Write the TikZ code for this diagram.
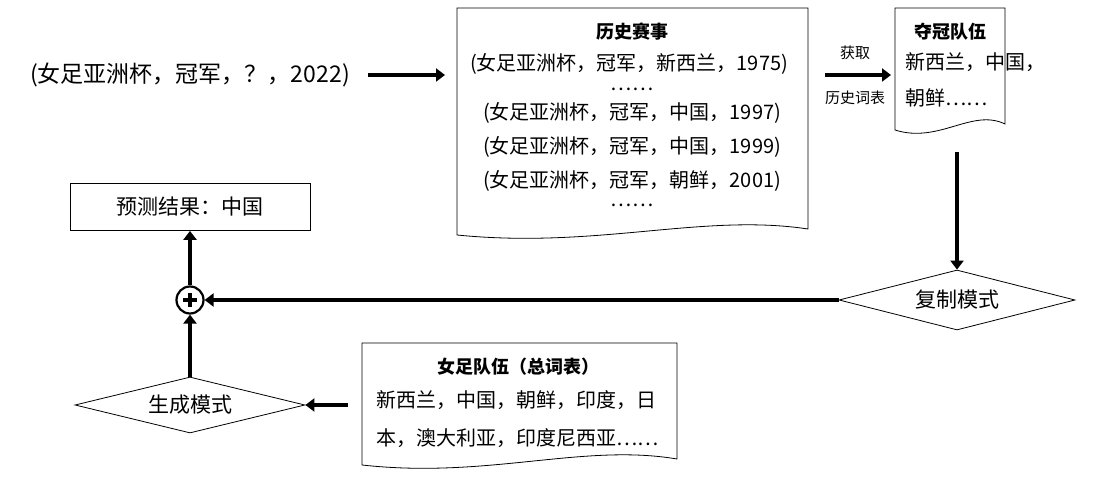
\documentclass[tikz,border=0pt]{standalone}
\usepackage{fontspec}
\setmainfont{Noto Sans CJK SC}
\usetikzlibrary{arrows.meta,shapes.geometric}
\tikzset{
 arr/.style={line width=4.5pt,-{Triangle[length=9pt,width=13pt]}},
 doc/.style={draw,line width=0.8pt,fill=white},
 dia/.style={diamond,draw,line width=0.8pt,aspect=4,inner sep=1pt,font=\fontsize{21}{23}\selectfont},
 txt/.style={font=\fontsize{20}{22}\selectfont,inner sep=0pt},
 ttl/.style={font=\fontsize{18}{20}\selectfont\bfseries,inner sep=0pt}
}
\newcommand{\docshape}[4]{% x1 x2 ytop ybot (pt, y up)
 \draw[doc] (#1pt,#3pt) -- (#2pt,#3pt) -- (#2pt,#4pt+6pt)
 .. controls ({#2pt-0.3*(#2pt-#1pt)},#4pt+22pt) and ({#1pt+0.4*(#2pt-#1pt)},#4pt-14pt) .. (#1pt,#4pt) -- cycle;}
\begin{document}
\begin{tikzpicture}[x=1pt,y=1pt]
\useasboundingbox (0,0) rectangle (1098,490);
% document shapes
\docshape{457}{808}{482}{255}
\docshape{895}{1005}{482}{360}
\docshape{362}{677}{147}{25}
% history doc
\node[ttl] (ht) at (632,458) {历史赛事};
\node[txt] (h1) at (629,426) {(女足亚洲杯，冠军，新西兰，1975)};
\node[txt] (h2) at (632,401) {……};
\node[txt] (h3) at (632,377) {(女足亚洲杯，冠军，中国，1997)};
\node[txt] (h4) at (632,343) {(女足亚洲杯，冠军，中国，1999)};
\node[txt] (h5) at (632,309) {(女足亚洲杯，冠军，朝鲜，2001)};
\node[txt] (h6) at (632,285) {……};
% winners doc
\node[ttl] (wt) at (950,458) {夺冠队伍};
\node[txt,anchor=west] (w1) at (905,428) {新西兰，中国，};
\node[txt,anchor=west] (w2) at (905,392) {朝鲜……};
% vocab doc
\node[ttl] (vt) at (518,123) {女足队伍（总词表）};
\node[txt,anchor=west] (v1) at (376,90) {新西兰，中国，朝鲜，印度，日};
\node[txt,anchor=west] (v2) at (376,52) {本，澳大利亚，印度尼西亚……};
% query
\node[font=\fontsize{23}{25}\selectfont,inner sep=0pt] (q) at (190,415) {(女足亚洲杯，冠军，？，2022)};
\coordinate (hdl) at (445,415);
\draw[arr] (368,415) -- (hdl);
% fetch arrow
\coordinate (fa) at (825,415); \coordinate (fb) at (891,415);
\draw[arr] (fa) -- (fb);
\node[font=\fontsize{15}{17}\selectfont] (g1) at (855,437) {获取};
\node[font=\fontsize{15}{17}\selectfont] (g2) at (855,392) {历史词表};
% copy mode
\node[dia,minimum width=236pt,minimum height=60pt] (copy) at (957,190) {复制模式};
\coordinate (wd) at (957,338);
\draw[arr] (wd) -- (copy.north);
% plus
\node[circle,draw,line width=2.2pt,minimum size=27pt,inner sep=0pt] (plus) at (190,190) {};
\draw[line width=4.5pt] (183,190) -- (197,190) (190,183) -- (190,197);
\draw[arr] (copy.west) -- (plus.east);
% result
\node[draw,line width=0.8pt,minimum width=240pt,minimum height=47pt,font=\fontsize{21}{23}\selectfont] (res) at (190,283) {预测结果：中国};
\draw[arr] (plus.north) -- (res.south);
% generate
\node[dia,minimum width=230pt,minimum height=56pt] (gen) at (190,85) {生成模式};
\draw[arr] (gen.north) -- (plus.south);
\coordinate (vl) at (348,85);
\draw[arr] (vl) -- (gen.east);
\end{tikzpicture}
\end{document}
